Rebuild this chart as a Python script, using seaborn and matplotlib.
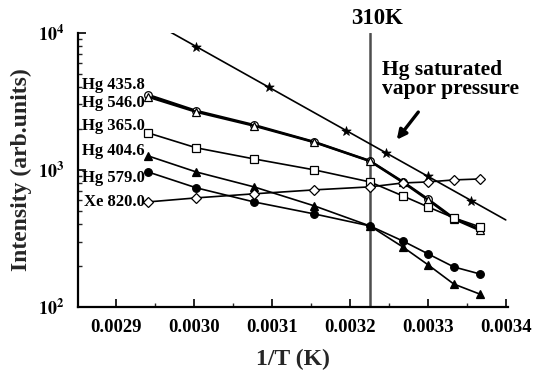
import numpy as np
import pandas as pd
import matplotlib
matplotlib.use("Agg")
import matplotlib.pyplot as plt
import seaborn as sns
from matplotlib.ticker import MultipleLocator, LogLocator, NullFormatter, FixedLocator, FixedFormatter
import matplotlib.transforms as mtransforms

# ---- data ----
temps = [340, 333, 325, 317, 310, 306, 303, 300, 297]          # K
hg4358 = [3527, 2698, 2128, 1600, 1164, 820, 612, 445, 368]
hg5460 = [3414, 2650, 2100, 1590, 1158, 812, 604, 439, 362]
hg3650 = [1862, 1449, 1203, 1000, 817, 646, 537, 447, 384]
hg4046 = [1265, 966, 752, 546, 390, 274, 203, 147, 124]
hg5790 = [966, 740, 584, 477, 390, 303, 244, 196, 174]
xe8200 = [584, 625, 669, 715, 752, 803, 817, 845, 859]
sat_temps = [333, 323, 313, 308, 303, 298]
sat_vals = [7910, 4040, 1928, 1330, 904, 594]

series_names = ["Hg 435.8", "Hg 546.0", "Hg 365.0", "Hg 404.6", "Hg 579.0", "Xe 820.0"]
series_vals = [hg4358, hg5460, hg3650, hg4046, hg5790, xe8200]
series_markers = ["o", "^", "s", "^", "o", "D"]
series_filled = [False, False, False, True, True, False]
label_dy = [-10, 6, -7, -5, 6, 0]   # label offsets (pixels, +down)

x_ticks = [0.0029, 0.0030, 0.0031, 0.0032, 0.0033, 0.0034]
x_ticklabels = ["0.0029", "0.0030", "0.0031", "0.0032", "0.0033", "0.0034"]

# ---- style ----
sns.set_theme(style="ticks")
plt.rcParams["font.family"] = ["Liberation Serif", "DejaVu Serif"]
plt.rcParams["font.weight"] = "bold"
plt.rcParams["mathtext.fontset"] = "stix"

fig = plt.figure(figsize=(5.44, 3.73), dpi=100)
ax = fig.add_axes([0.143, 0.177, 0.791, 0.735])

for name, vals, mk, filled in zip(series_names, series_vals, series_markers, series_filled):
    df = pd.DataFrame({"invT": 1.0 / np.array(temps, dtype=float), "I": vals})
    lw = 1.7 if name in ("Hg 435.8", "Hg 546.0") else 1.2
    ms = 5 if mk == "D" else 5.5
    sns.lineplot(data=df, x="invT", y="I", ax=ax, color="black", lw=lw,
                 marker=mk, markersize=ms, markeredgecolor="black", markeredgewidth=0.9,
                 markerfacecolor=("black" if filled else "white"), zorder=3)

# saturated vapor pressure: stars plus straight log-linear line through them
sat_x = 1.0 / np.array(sat_temps, dtype=float)
coef = np.polyfit(sat_x, np.log10(sat_vals), 1)
fit_x = np.array([0.00296, 0.00340])
fit_df = pd.DataFrame({"invT": fit_x, "I": 10 ** np.polyval(coef, fit_x)})
sns.lineplot(data=fit_df, x="invT", y="I", ax=ax, color="black", lw=1.2, zorder=3)
sns.scatterplot(x=sat_x, y=sat_vals, ax=ax, marker="*", s=50, color="black",
                edgecolor="black", linewidth=0.5, zorder=4)

ax.axvline(1.0 / 310, color="0.3", lw=1.8, zorder=2)

ax.set_yscale("log")
ax.set_xlim(0.002851, 0.003403)
ax.set_ylim(100, 10000)

# ticks
ax.xaxis.set_major_locator(FixedLocator(x_ticks))
ax.xaxis.set_major_formatter(FixedFormatter(x_ticklabels))
ax.xaxis.set_minor_locator(MultipleLocator(0.00005))
ax.yaxis.set_minor_locator(LogLocator(base=10, subs=np.arange(2, 10), numticks=20))
ax.yaxis.set_minor_formatter(NullFormatter())
ax.set_yticks([100, 1000, 10000])
ax.set_yticklabels([r"$\mathbf{10^{2}}$", r"$\mathbf{10^{3}}$", r"$\mathbf{10^{4}}$"])
ax.tick_params(axis="both", which="major", direction="in", length=6, width=1.2,
               labelsize=13.5, pad=9, colors="black")
ax.tick_params(axis="both", which="minor", direction="in", length=3, width=1.0)
for lab in ax.get_xticklabels():
    lab.set_fontweight("bold")
ax.tick_params(axis="y", labelsize=13, pad=10)

sns.despine(ax=ax)
for sp in ("left", "bottom"):
    ax.spines[sp].set_linewidth(1.6)
    ax.spines[sp].set_color("black")

ax.set_xlabel("1/T (K)", fontsize=17, fontweight="bold", labelpad=9)
ax.set_ylabel("Intensity (arb.units)", fontsize=17, fontweight="bold", labelpad=4)

# series labels left of first points
for name, vals, dy in zip(series_names, series_vals, label_dy):
    ax.annotate(name, xy=(1.0 / temps[0], vals[0]), xytext=(-3, -dy),
                textcoords="offset pixels", ha="right", va="center",
                fontsize=12, fontweight="bold", color="black")

# 310K label
trans = mtransforms.blended_transform_factory(ax.transData, ax.transAxes)
ax.text(1.0 / 310 + 0.0000085, 1.015, "310K", transform=trans, ha="center", va="bottom",
        fontsize=16.5, fontweight="bold", color="black")

ax.text(0.003241, 6300, "Hg saturated\nvapor pressure", ha="left", va="top",
        fontsize=15.5, fontweight="bold", linespacing=0.9, color="black")
ax.annotate("", xy=(0.003258, 1600), xytext=(0.003290, 2742),
            arrowprops=dict(arrowstyle="-|>", lw=2.4, color="black", mutation_scale=14))

fig.savefig("out.png", dpi=100)
